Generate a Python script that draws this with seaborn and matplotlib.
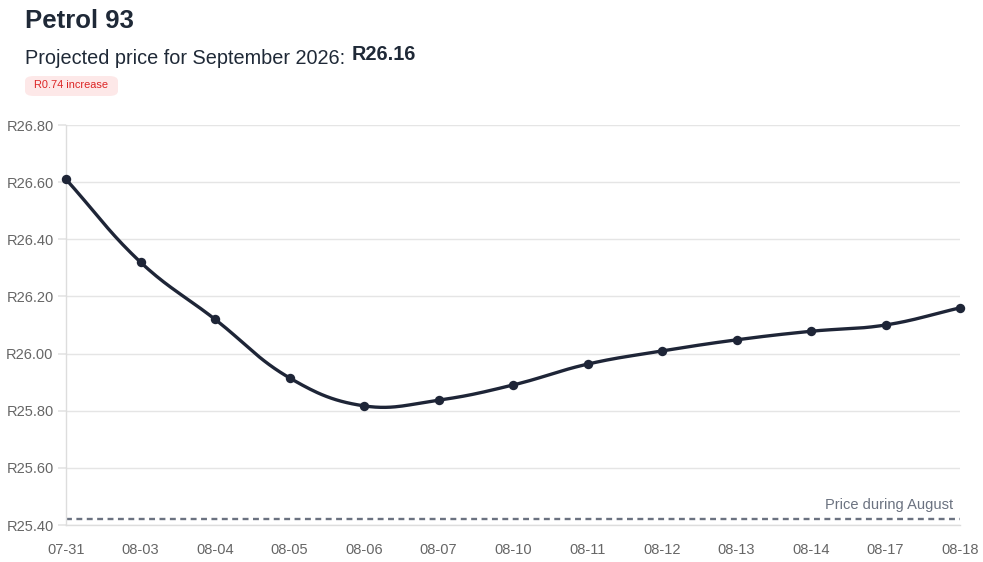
import numpy as np
import pandas as pd
import matplotlib
matplotlib.use('Agg')
import matplotlib.pyplot as plt
import seaborn as sns
from matplotlib.patches import FancyBboxPatch

# DATA
dates = ['07-31', '08-03', '08-04', '08-05', '08-06', '08-07', '08-10',
         '08-11', '08-12', '08-13', '08-14', '08-17', '08-18']
prices = [26.61, 26.32, 26.12, 25.915, 25.817, 25.837, 25.89,
          25.963, 26.009, 26.048, 26.078, 26.10, 26.16]
august_price = 25.42
y_ticks = [25.40, 25.60, 25.80, 26.00, 26.20, 26.40, 26.60, 26.80]

sns.set_theme(style='white')
plt.rcParams['font.family'] = ['Liberation Sans', 'DejaVu Sans']

DARK = '#1e2537'
GREY = '#6b7280'


def smooth_curve(xs, ys, tension=0.4, xscale=74.5, yscale=285.7, n=30):
    """ bezier smoothing like chart.js, distances in pixel units """
    px = np.asarray(xs, float) * xscale
    py = np.asarray(ys, float) * yscale
    m = len(px)
    cp_prev = np.zeros((m, 2))
    cp_next = np.zeros((m, 2))
    for i in range(m):
        p0 = (px[max(i - 1, 0)], py[max(i - 1, 0)])
        p1 = (px[i], py[i])
        p2 = (px[min(i + 1, m - 1)], py[min(i + 1, m - 1)])
        d01 = np.hypot(p1[0] - p0[0], p1[1] - p0[1])
        d12 = np.hypot(p2[0] - p1[0], p2[1] - p1[1])
        tot = d01 + d12
        s01 = d01 / tot if tot else 0
        s12 = d12 / tot if tot else 0
        fa, fb = tension * s01, tension * s12
        cp_prev[i] = (p1[0] - fa * (p2[0] - p0[0]), p1[1] - fa * (p2[1] - p0[1]))
        cp_next[i] = (p1[0] + fb * (p2[0] - p0[0]), p1[1] + fb * (p2[1] - p0[1]))
    outx, outy = [], []
    t = np.linspace(0, 1, n)
    for i in range(m - 1):
        a = np.array([px[i], py[i]])
        b = cp_next[i]
        c = cp_prev[i + 1]
        d = np.array([px[i + 1], py[i + 1]])
        seg = ((1 - t) ** 3)[:, None] * a + (3 * (1 - t) ** 2 * t)[:, None] * b \
            + (3 * (1 - t) * t ** 2)[:, None] * c + (t ** 3)[:, None] * d
        outx.extend(seg[:, 0] / xscale)
        outy.extend(seg[:, 1] / yscale)
    return np.array(outx), np.array(outy)


df = pd.DataFrame({'idx': np.arange(len(dates)), 'date': dates, 'price': prices})
sx, sy = smooth_curve(df['idx'], df['price'])
curve = pd.DataFrame({'x': sx, 'y': sy})

fig = plt.figure(figsize=(9.83, 5.62), dpi=100)
ax = fig.add_axes([66 / 983, 1 - 525 / 562, (960 - 66) / 983, 400 / 562])

# AUGUST PRICE LINE
ax.axhline(august_price, color=GREY, linestyle=(0, (2.5, 1.9)), linewidth=1.7, zorder=2)
ax.text(len(dates) - 1.09, august_price + 0.025, 'Price during August', color=GREY,
        fontsize=10.5, ha='right', va='bottom')

# PRICE CURVE
sns.lineplot(data=curve, x='x', y='y', ax=ax, color=DARK, linewidth=2.4,
             sort=False, estimator=None, zorder=3)
sns.scatterplot(data=df, x='idx', y='price', ax=ax, color=DARK, s=46,
                edgecolor=DARK, linewidth=0, zorder=4, clip_on=False)

# AXES
ax.set_xlim(0, len(dates) - 1)
ax.set_ylim(25.40, 26.80)
ax.set_xticks(df['idx'])
ax.set_xticklabels(dates)
ax.set_yticks(y_ticks)
ax.set_yticklabels(['R{:.2f}'.format(v) for v in y_ticks])
ax.set_xlabel('')
ax.set_ylabel('')
ax.grid(axis='y', color='#e5e5e5', linewidth=1)
ax.grid(axis='x', visible=False)
for s in ['top', 'right']:
    ax.spines[s].set_visible(False)
for s in ['left', 'bottom']:
    ax.spines[s].set_color('#dddddd')
    ax.spines[s].set_linewidth(1)
ax.tick_params(axis='y', length=6, color='#e5e5e5', labelsize=10.5,
               labelcolor='#666666', pad=3, left=True)
ax.tick_params(axis='x', length=0, labelsize=10.5, labelcolor='#666666', pad=13)

# TITLES
fig.text(25 / 983, 1 - 21 / 562, 'Petrol 93', fontsize=18.5, fontweight='bold',
         color='#1f2937', va='center', ha='left')
sub = fig.text(25 / 983, 1 - 58 / 562, 'Projected price for September 2026: ',
               fontsize=14.3, color='#1f2937', va='center', ha='left')
fig.canvas.draw()
bb = sub.get_window_extent(renderer=fig.canvas.get_renderer())
fig.text(bb.x1 / fig.bbox.width + 0.001, 1 - 55 / 562, 'R26.16', fontsize=14.3,
         fontweight='bold', color='#1f2937', va='center', ha='left')

# BADGE
badge = FancyBboxPatch((25 / 983, 1 - 96 / 562), 93 / 983, 20 / 562,
                       boxstyle='round,pad=0,rounding_size=0.009',
                       transform=fig.transFigure, facecolor='#fde8e8',
                       edgecolor='none')
fig.patches.append(badge)
fig.text(71.5 / 983, 1 - 85.5 / 562, 'R0.74 increase', fontsize=7.9, color='#dc2626',
         va='center', ha='center')

plt.savefig('out.png', dpi=100)
